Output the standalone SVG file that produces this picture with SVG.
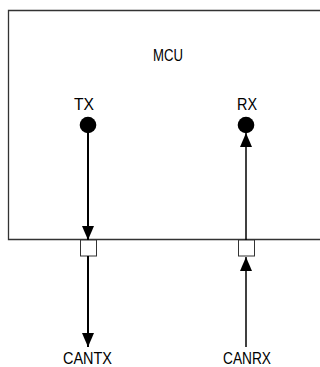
<svg xmlns="http://www.w3.org/2000/svg" width="320" height="367" viewBox="0 0 320 367">
<defs>
<style>
text{font-family:"Liberation Sans",Arial,sans-serif;font-size:17px;fill:#000;}
.wire{stroke:#000;fill:none;}
.port{fill:#fff;stroke:#333;stroke-width:1;}
</style>
<marker id="ah" viewBox="0 0 14 12" refX="14" refY="6" markerWidth="14" markerHeight="12" markerUnits="userSpaceOnUse" orient="auto">
<path d="M0,0 L14,6 L0,12 Z" fill="#000"/>
</marker>
</defs>
<rect width="320" height="367" fill="#fff"/>
<g id="mcu">
<path d="M330,10.5 H8.5 V239.5 H330" fill="none" stroke="#333" stroke-width="1.3"/>
<text x="153" y="61" textLength="30" lengthAdjust="spacingAndGlyphs">MCU</text>
</g>
<g id="tx">
<circle cx="88" cy="125" r="8.3" fill="#000"/>
<text x="74" y="110" textLength="20" lengthAdjust="spacingAndGlyphs">TX</text>
</g>
<g id="rx">
<circle cx="246" cy="125" r="8.3" fill="#000"/>
<text x="237" y="110" textLength="20" lengthAdjust="spacingAndGlyphs">RX</text>
</g>
<g id="port-tx"><rect class="port" x="80.5" y="240" width="16" height="16"/></g>
<g id="port-rx"><rect class="port" x="238.5" y="240" width="16" height="16"/></g>
<g id="cantx"><text x="63" y="364" textLength="49" lengthAdjust="spacingAndGlyphs">CANTX</text></g>
<g id="canrx"><text x="223" y="364" textLength="48" lengthAdjust="spacingAndGlyphs">CANRX</text></g>
<g id="connectors">
<line class="wire" x1="88" y1="130" x2="88" y2="240" stroke-width="2" marker-end="url(#ah)"/>
<line class="wire" x1="88" y1="256" x2="88" y2="347" stroke-width="2" marker-end="url(#ah)"/>
<line class="wire" x1="246" y1="240" x2="246" y2="133" stroke-width="1.5" marker-end="url(#ah)"/>
<line class="wire" x1="246" y1="347" x2="246" y2="257" stroke-width="1.5" marker-end="url(#ah)"/>
</g>
</svg>
